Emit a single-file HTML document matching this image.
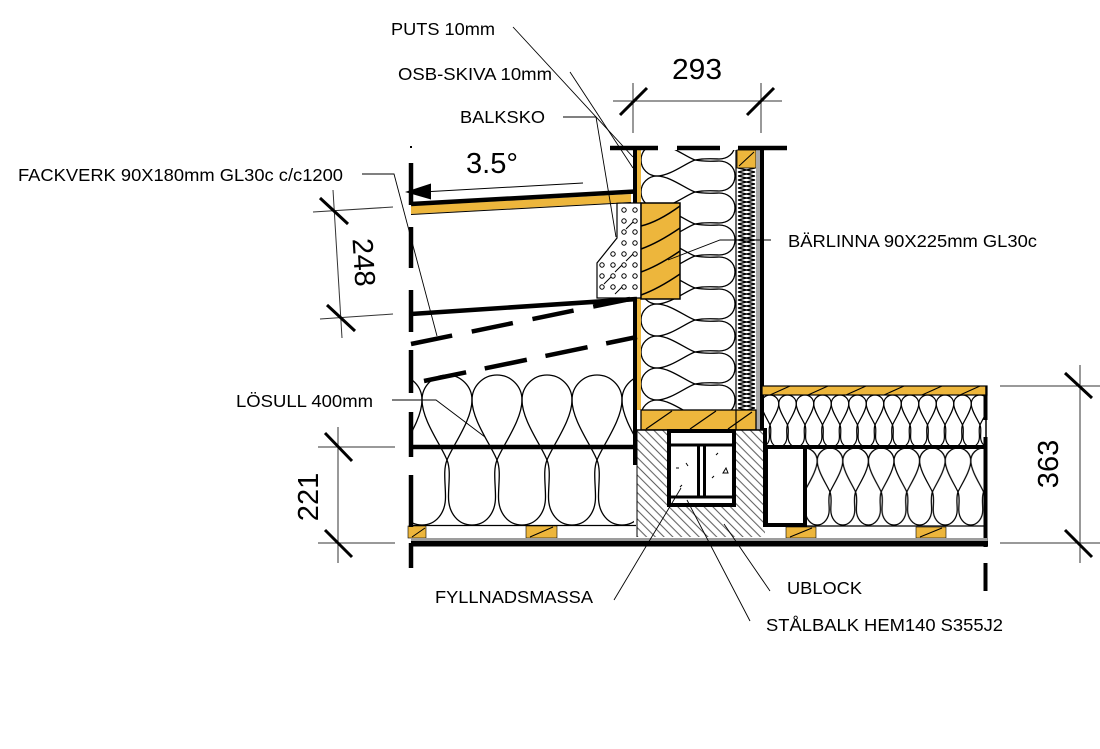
<!DOCTYPE html>
<html><head><meta charset="utf-8"><style>
html,body{margin:0;padding:0;background:#fff;}
svg{display:block;}
text{font-family:"Liberation Sans",Arial,sans-serif;fill:#000;}
.lb{font-size:17.5px;}
.dm{font-size:29px;}
</style></head><body>
<svg width="1100" height="749" viewBox="0 0 1100 749" xmlns="http://www.w3.org/2000/svg">
<defs>
<pattern id="insL" patternUnits="userSpaceOnUse" x="447" y="374" width="50" height="152">
<g transform="translate(0,1)" fill="none" stroke="#000" stroke-width="1.3">
<path d="M0,85 C6,70 25,45 25,25 C25,11.2 13.8,0 0,0 C-13.8,0 -25,11.2 -25,25 C-25,45 -6,70 0,85 C4,95 1.5,108 1.5,122 C1.5,138 11,150 25,150 C39,150 48.5,138 48.5,122 C48.5,108 46,95 50,85"/>
<path transform="translate(50,0)" d="M0,85 C6,70 25,45 25,25 C25,11.2 13.8,0 0,0 C-13.8,0 -25,11.2 -25,25 C-25,45 -6,70 0,85 C4,95 1.5,108 1.5,122 C1.5,138 11,150 25,150 C39,150 48.5,138 48.5,122 C48.5,108 46,95 50,85"/>
</g></pattern>
<pattern id="insRU" patternUnits="userSpaceOnUse" x="770" y="394" width="17.5" height="54">
<g transform="translate(0,1)" fill="none" stroke="#000" stroke-width="1.2">
<path d="M0,30 C2,25 8.75,15.75 8.75,8.75 C8.75,3.92 4.83,0 0,0 C-4.83,0 -8.75,3.92 -8.75,8.75 C-8.75,15.75 -2,25 0,30 C1.4,33.5 0.6,37 0.6,42 C0.6,47.5 4,52 8.75,52 C13.5,52 16.9,47.5 16.9,42 C16.9,37 16.1,33.5 17.5,30"/>
<path transform="translate(17.5,0)" d="M0,30 C2,25 8.75,15.75 8.75,8.75 C8.75,3.92 4.83,0 0,0 C-4.83,0 -8.75,3.92 -8.75,8.75 C-8.75,15.75 -2,25 0,30 C1.4,33.5 0.6,37 0.6,42 C0.6,47.5 4,52 8.75,52 C13.5,52 16.9,47.5 16.9,42 C16.9,37 16.1,33.5 17.5,30"/>
</g></pattern>
<pattern id="insRL" patternUnits="userSpaceOnUse" x="830" y="447" width="25.6" height="79">
<g transform="translate(0,1)" fill="none" stroke="#000" stroke-width="1.25">
<path d="M0,44 C3,37 12.8,22.8 12.8,12.8 C12.8,5.73 7.07,0 0,0 C-7.07,0 -12.8,5.73 -12.8,12.8 C-12.8,22.8 -3,37 0,44 C2,49 0.8,55 0.8,62 C0.8,70 6,77 12.8,77 C19.6,77 24.8,70 24.8,62 C24.8,55 23.6,49 25.6,44"/>
<path transform="translate(25.6,0)" d="M0,44 C3,37 12.8,22.8 12.8,12.8 C12.8,5.73 7.07,0 0,0 C-7.07,0 -12.8,5.73 -12.8,12.8 C-12.8,22.8 -3,37 0,44 C2,49 0.8,55 0.8,62 C0.8,70 6,77 12.8,77 C19.6,77 24.8,70 24.8,62 C24.8,55 23.6,49 25.6,44"/>
</g></pattern>
<pattern id="insW" patternUnits="userSpaceOnUse" x="640" y="160" width="96" height="32">
<g fill="none" stroke="#000" stroke-width="1.3">
<path transform="translate(1,0)" d="M54,0 C45,3 29,16 16,16 C7.17,16 0,8.83 0,0 C0,-8.83 7.17,-16 16,-16 C29,-16 45,-3 54,0 C64,2 76,1 78,1 C86,1 94,6 94,16 C94,26 86,31 78,31 C76,31 64,30 54,32"/>
<path transform="translate(1,32)" d="M54,0 C45,3 29,16 16,16 C7.17,16 0,8.83 0,0 C0,-8.83 7.17,-16 16,-16 C29,-16 45,-3 54,0 C64,2 76,1 78,1 C86,1 94,6 94,16 C94,26 86,31 78,31 C76,31 64,30 54,32"/>
</g></pattern>
<pattern id="insM" patternUnits="userSpaceOnUse" x="737" y="168" width="19" height="8">
<rect width="19" height="8" fill="#fff"/>
<path d="M1,0 L18,4 L1,8 M18,0 L1,4 L18,8" fill="none" stroke="#000" stroke-width="1.3"/>
</pattern>
<pattern id="hatch" patternUnits="userSpaceOnUse" width="6.2" height="6.2" patternTransform="rotate(-45)">
<rect width="6.2" height="6.2" fill="#fff"/>
<line x1="3.1" y1="-1" x2="3.1" y2="8" stroke="#3a3a3a" stroke-width="0.85"/>
</pattern>
</defs>
<rect width="1100" height="749" fill="#fff"/>

<!-- WALL -->
<rect x="640" y="150" width="96" height="260" fill="url(#insW)"/>
<rect x="737" y="168" width="19" height="242" fill="url(#insM)"/>
<rect x="737" y="150" width="19" height="18" fill="#EDB63C" stroke="#000" stroke-width="0.8"/>
<line x1="739" y1="166" x2="754" y2="152" stroke="#000" stroke-width="1"/>
<rect x="633" y="148" width="4" height="317" fill="#000"/>
<rect x="637" y="150" width="4" height="260" fill="#EDB63C"/>
<line x1="736" y1="150" x2="736" y2="430" stroke="#000" stroke-width="1.2"/>
<rect x="756" y="148" width="4" height="282" fill="#a9a9a9"/>
<rect x="760" y="148" width="4" height="282" fill="#000"/>

<!-- sole plate -->
<rect x="641" y="410" width="115" height="20" fill="#EDB63C" stroke="#000" stroke-width="1.3"/>
<path d="M646,429 L672,411 M690,429 L716,411 M728,429 L752,412" stroke="#000" stroke-width="1.2" fill="none"/>
<line x1="736" y1="410" x2="736" y2="430" stroke="#000" stroke-width="1.2"/>

<!-- balksko -->
<polygon points="617,203 641,203 641,298 597,298 597,263 617,238" fill="#fff" stroke="#000" stroke-width="1.2"/>
<g fill="none" stroke="#000" stroke-width="1">
<circle cx="624" cy="210" r="2.2"/><circle cx="635" cy="210" r="2.2"/>
<circle cx="624" cy="221" r="2.2"/><circle cx="635" cy="221" r="2.2"/>
<circle cx="624" cy="232" r="2.2"/><circle cx="635" cy="232" r="2.2"/>
<circle cx="624" cy="243" r="2.2"/><circle cx="635" cy="243" r="2.2"/>
<circle cx="613" cy="254" r="2.2"/><circle cx="624" cy="254" r="2.2"/><circle cx="635" cy="254" r="2.2"/>
<circle cx="602" cy="265" r="2.2"/><circle cx="613" cy="265" r="2.2"/><circle cx="624" cy="265" r="2.2"/><circle cx="635" cy="265" r="2.2"/>
<circle cx="602" cy="276" r="2.2"/><circle cx="613" cy="276" r="2.2"/><circle cx="624" cy="276" r="2.2"/><circle cx="635" cy="276" r="2.2"/>
<circle cx="602" cy="287" r="2.2"/><circle cx="613" cy="287" r="2.2"/><circle cx="624" cy="287" r="2.2"/><circle cx="635" cy="287" r="2.2"/>
<path d="M604,284 l7,-7 M615,272 l7,-7 M626,261 l7,-7 M626,229 l7,-7 M615,294 l7,-7"/>
</g>

<!-- bärlinna -->
<rect x="641" y="203" width="39" height="96" fill="#EDB63C" stroke="#000" stroke-width="1.5"/>
<g fill="none" stroke="#000" stroke-width="1.5">
<path d="M641,226 Q658,222 680,206"/>
<path d="M641,249 Q658,243 680,228"/>
<path d="M641,272 Q658,266 680,251"/>
<path d="M641,295 Q658,289 680,274"/>
</g>

<!-- ROOF -->
<polygon points="411,206 631,194 631,202 411,214" fill="#EDB63C"/>
<line x1="411" y1="214.5" x2="631" y2="202.5" stroke="#000" stroke-width="1"/>
<line x1="411" y1="204" x2="635" y2="191.5" stroke="#000" stroke-width="4.5"/>
<line x1="411" y1="314" x2="637" y2="299" stroke="#000" stroke-width="4.5"/>
<line x1="411" y1="344" x2="630" y2="299" stroke="#000" stroke-width="4.5" stroke-dasharray="42 20"/>
<line x1="424" y1="381" x2="637" y2="337" stroke="#000" stroke-width="4.5" stroke-dasharray="43 19"/>

<!-- LEFT FLOOR -->
<rect x="412" y="374" width="222" height="152" fill="url(#insL)"/>
<line x1="411" y1="447" x2="636" y2="447" stroke="#000" stroke-width="4.5"/>
<line x1="411" y1="525.5" x2="636" y2="525.5" stroke="#000" stroke-width="1.2"/>
<rect x="408" y="526" width="18" height="12" fill="#EDB63C" stroke="#000" stroke-width="0.6"/>
<line x1="412" y1="537" x2="425" y2="528" stroke="#000" stroke-width="1"/>
<rect x="526" y="526" width="31" height="12" fill="#EDB63C" stroke="#000" stroke-width="0.6"/>
<line x1="530" y1="537" x2="553" y2="527" stroke="#000" stroke-width="1"/>

<!-- UBLOCK + BEAM -->
<rect x="637" y="430" width="128" height="107" fill="url(#hatch)"/>
<line x1="637" y1="430" x2="765" y2="430" stroke="#000" stroke-width="1.5"/>
<line x1="637" y1="430" x2="637" y2="537" stroke="#000" stroke-width="1"/>
<rect x="763" y="428" width="4" height="99" fill="#000"/>
<rect x="669" y="431" width="65" height="74" fill="#fff" stroke="#000" stroke-width="4"/>
<g stroke="#000" stroke-width="3" fill="none">
<line x1="671" y1="445" x2="732" y2="445"/>
<line x1="671" y1="497" x2="732" y2="497"/>
<line x1="698.5" y1="445" x2="698.5" y2="497"/>
<line x1="704.5" y1="445" x2="704.5" y2="497"/>
</g>
<g stroke="#000" stroke-width="1" fill="none">
<path d="M676,468 l3,0 M686,463 l2,3 M716,455 l2,-2 M726,468 l-3,5 l5,0 z M712,478 l2,-2 M680,487 l2,-2"/>
</g>

<!-- RIGHT FLOOR -->
<rect x="764" y="394" width="221" height="54" fill="url(#insRU)"/>
<rect x="762" y="386" width="225" height="9" fill="#EDB63C" stroke="#000" stroke-width="1.2"/>
<path d="M770,395 l20,-9 M808,395 l20,-9 M846,395 l20,-9 M884,395 l20,-9 M922,395 l20,-9 M960,395 l20,-9" stroke="#000" stroke-width="1.1" fill="none"/>
<line x1="766" y1="447" x2="987" y2="447" stroke="#000" stroke-width="4"/>
<rect x="807" y="447" width="177" height="79" fill="url(#insRL)"/>
<rect x="766" y="447" width="39" height="78" fill="#fff" stroke="#000" stroke-width="4"/>
<line x1="766" y1="526" x2="987" y2="526" stroke="#000" stroke-width="1.2"/>
<rect x="786" y="527" width="30" height="11" fill="#EDB63C" stroke="#000" stroke-width="0.6"/>
<line x1="790" y1="537" x2="812" y2="528" stroke="#000" stroke-width="1"/>
<rect x="916" y="527" width="30" height="11" fill="#EDB63C" stroke="#000" stroke-width="0.6"/>
<line x1="920" y1="537" x2="942" y2="528" stroke="#000" stroke-width="1"/>
<line x1="986" y1="386" x2="986" y2="547" stroke="#000" stroke-width="1.5"/>
<rect x="983.5" y="395" width="4" height="25" fill="#000"/>
<rect x="983.5" y="437" width="4" height="110" fill="#000"/>

<!-- bottom lines -->
<rect x="411" y="538" width="576" height="3" fill="#9d9d9d"/>
<rect x="411" y="541" width="577" height="5.5" fill="#000"/>
<rect x="983.5" y="563" width="4" height="28" fill="#000"/>

<!-- left dashed vertical -->
<g stroke="#000" stroke-width="4.5">
<line x1="411" y1="163" x2="411" y2="205"/>
<line x1="411" y1="227" x2="411" y2="268"/>
<line x1="411" y1="290" x2="411" y2="332"/>
<line x1="411" y1="350" x2="411" y2="393"/>
<line x1="411" y1="412" x2="411" y2="457"/>
<line x1="411" y1="475" x2="411" y2="527"/>
<line x1="411" y1="543" x2="411" y2="568"/>
</g>
<rect x="410" y="146" width="2" height="2" fill="#000"/>

<!-- top dashed -->
<g stroke="#000" stroke-width="4.5">
<line x1="610" y1="148" x2="658" y2="148"/>
<line x1="677" y1="148" x2="720" y2="148"/>
<line x1="738" y1="148" x2="787" y2="148"/>
</g>

<!-- slope arrow -->
<polygon points="405,192 431,183.5 431,199.5" fill="#000"/>
<line x1="431" y1="191.5" x2="583" y2="183" stroke="#000" stroke-width="1"/>

<!-- DIMENSIONS -->
<g stroke="#333" stroke-width="1" fill="none">
<line x1="613" y1="101" x2="782" y2="101"/>
<line x1="633" y1="83" x2="633" y2="133"/>
<line x1="761" y1="83" x2="761" y2="133"/>
<line x1="333" y1="190" x2="342" y2="338"/>
<line x1="313" y1="212" x2="393" y2="207"/>
<line x1="320" y1="319" x2="393" y2="314"/>
<line x1="338" y1="427" x2="338" y2="563"/>
<line x1="318" y1="447" x2="395" y2="447"/>
<line x1="318" y1="543" x2="395" y2="543"/>
<line x1="1080" y1="365" x2="1080" y2="563"/>
<line x1="1000" y1="386" x2="1100" y2="386"/>
<line x1="1000" y1="543" x2="1100" y2="543"/>
</g>
<g stroke="#000" stroke-width="3">
<line x1="620" y1="115" x2="647" y2="88"/>
<line x1="747" y1="115" x2="774" y2="88"/>
<line x1="320" y1="198" x2="348" y2="224"/>
<line x1="327" y1="305" x2="355" y2="331"/>
<line x1="325" y1="433" x2="352" y2="461"/>
<line x1="325" y1="530" x2="352" y2="557"/>
<line x1="1065" y1="373" x2="1092" y2="398"/>
<line x1="1065" y1="530" x2="1092" y2="557"/>
</g>
<text class="dm" x="672" y="79" textLength="50" lengthAdjust="spacingAndGlyphs">293</text>
<text class="dm" x="466" y="173" textLength="52" lengthAdjust="spacingAndGlyphs">3.5°</text>
<text class="dm" text-anchor="middle" transform="translate(354,263) rotate(86.5)">248</text>
<text class="dm" text-anchor="middle" transform="translate(318,497) rotate(-90)">221</text>
<text class="dm" text-anchor="middle" transform="translate(1058,464) rotate(-90)">363</text>

<!-- LEADERS -->
<g stroke="#000" stroke-width="0.9" fill="none">
<line x1="513" y1="27" x2="633" y2="157"/>
<line x1="570" y1="72" x2="633" y2="168"/>
<polyline points="563,117 596,117 616,237"/>
<polyline points="362,174 394,174 437,336"/>
<polyline points="771,240 720,240 668,260"/>
<polyline points="392,400 436,400 485,437"/>
<line x1="614" y1="600" x2="681" y2="488"/>
<line x1="724" y1="524" x2="770" y2="591"/>
<line x1="687" y1="500" x2="750" y2="621"/>
</g>

<!-- LABELS -->
<text class="lb" x="391" y="35" textLength="104" lengthAdjust="spacingAndGlyphs">PUTS 10mm</text>
<text class="lb" x="398" y="80" textLength="154" lengthAdjust="spacingAndGlyphs">OSB-SKIVA 10mm</text>
<text class="lb" x="460" y="123" textLength="85" lengthAdjust="spacingAndGlyphs">BALKSKO</text>
<text class="lb" x="18" y="181" textLength="325" lengthAdjust="spacingAndGlyphs">FACKVERK 90X180mm GL30c c/c1200</text>
<text class="lb" x="788" y="247" textLength="249" lengthAdjust="spacingAndGlyphs">BÄRLINNA 90X225mm GL30c</text>
<text class="lb" x="236" y="407" textLength="137" lengthAdjust="spacingAndGlyphs">LÖSULL 400mm</text>
<text class="lb" x="435" y="603" textLength="158" lengthAdjust="spacingAndGlyphs">FYLLNADSMASSA</text>
<text class="lb" x="787" y="594" textLength="75" lengthAdjust="spacingAndGlyphs">UBLOCK</text>
<text class="lb" x="766" y="631" textLength="237" lengthAdjust="spacingAndGlyphs">STÅLBALK HEM140 S355J2</text>
</svg>
</body></html>
